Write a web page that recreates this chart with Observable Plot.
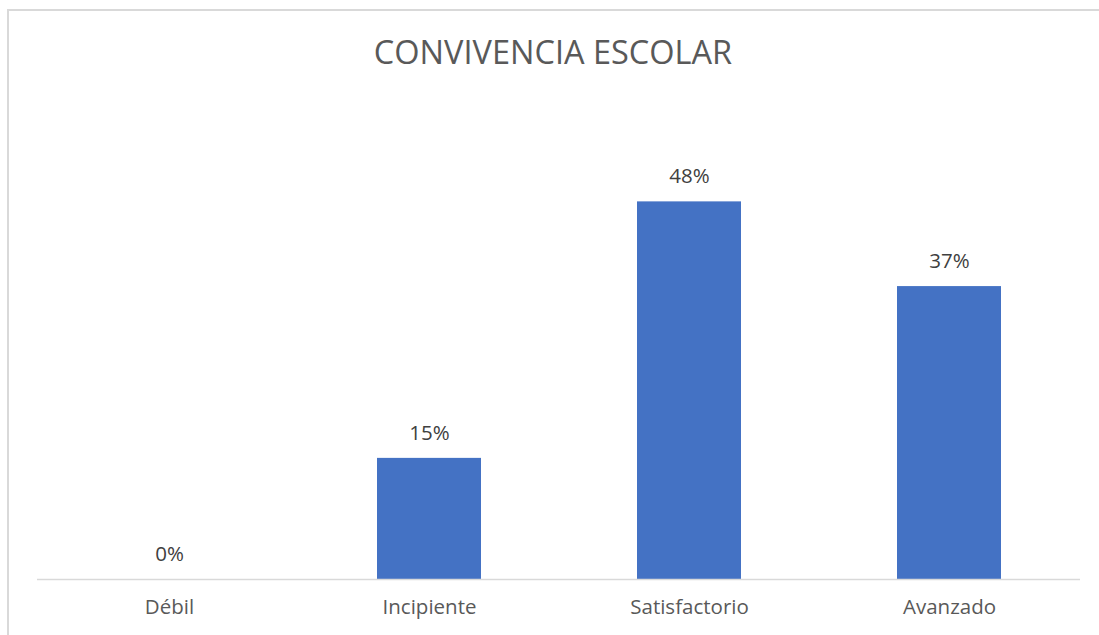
<!DOCTYPE html>
<html>
<head>
<meta charset="utf-8">
<script src="https://cdn.jsdelivr.net/npm/d3@7"></script>
<script src="https://cdn.jsdelivr.net/npm/@observablehq/plot@0.6"></script>
<style>
  html, body { margin: 0; padding: 0; background: #fff; overflow: hidden; }
  #frame { position: absolute; left: 7px; top: 9px; width: 1092px; height: 626px;
           border-left: 2px solid #d9d9d9; border-top: 2px solid #d9d9d9; box-sizing: border-box; }
  #title { position: absolute; left: 7px; width: 1092px; top: 34px; text-align: center;
           font-family: "Open Sans", sans-serif; font-size: 32.5px; line-height: 36px; color: #595959; }
  #chart { position: absolute; left: 0; top: 0; }
</style>
</head>
<body>
<div id="frame"></div>
<div id="title">CONVIVENCIA ESCOLAR</div>
<div id="chart"></div>
<script>
const categories = ["Débil", "Incipiente", "Satisfactorio", "Avanzado"];
const values = [0, 0.153, 0.477, 0.37];
const labels = ["0%", "15%", "48%", "37%"];

const data = categories.map((c, i) => ({category: c, value: values[i], label: labels[i]}));

const chart = Plot.plot({
  width: 1099,
  height: 635,
  marginLeft: 37,
  marginRight: 19,
  marginTop: 104,
  marginBottom: 56,
  style: {fontFamily: "'Open Sans', sans-serif", background: "transparent"},
  x: {domain: categories, paddingInner: 0.6, paddingOuter: 0.3, label: null},
  y: {domain: [0, 0.6], axis: null},
  marks: [
    Plot.barY(data, {x: "category", y: "value", fill: "#4472C4"}),
    Plot.ruleY([0], {stroke: "#d9d9d9", strokeWidth: 1.5}),
    Plot.text(data, {x: "category", y: "value", text: "label", dy: -25, lineAnchor: "middle",
                     fontSize: 20.5, fill: "#404040"}),
    Plot.axisX({tickSize: 0, tickPadding: 20, fontSize: 20.5, fill: "#595959", label: null})
  ]
});
document.getElementById("chart").appendChild(chart);
</script>
</body>
</html>
